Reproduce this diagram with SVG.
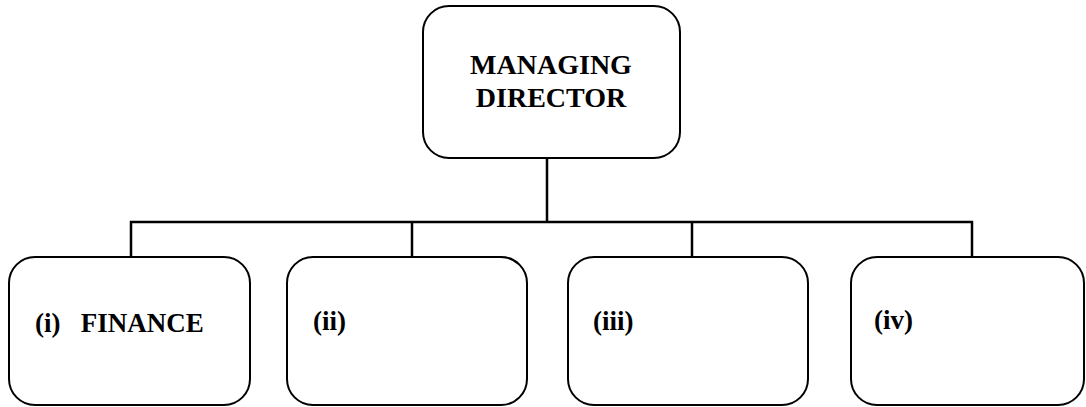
<svg xmlns="http://www.w3.org/2000/svg" width="1086" height="407" viewBox="0 0 1086 407">
<style>
.box{fill:#fff;stroke:#000;stroke-width:2}
.conn{fill:none;stroke:#000;stroke-width:2.5}
.t{font-family:'Liberation Serif','Times New Roman','DejaVu Serif',serif;font-weight:bold;font-size:27px;fill:#000}
.big{font-size:28px}
</style>
<rect width="1086" height="407" fill="#fff"/>
<g id="connectors">
<path class="conn" d="M547 158 V222 M131 257 V222 H972 V257 M412 222 V257 M692 222 V257"/>
</g>
<g id="md">
<rect class="box" x="423" y="6" width="257" height="152" rx="26"/>
<text class="t big" x="551" y="74" text-anchor="middle">MANAGING</text>
<text class="t big" x="551" y="107" text-anchor="middle">DIRECTOR</text>
</g>
<g id="n1">
<rect class="box" x="9" y="257" width="241" height="148" rx="26"/>
<text class="t" x="35" y="332" xml:space="preserve">(i)   FINANCE</text>
</g>
<g id="n2">
<rect class="box" x="287" y="257" width="240" height="148" rx="26"/>
<text class="t" x="313" y="330">(ii)</text>
</g>
<g id="n3">
<rect class="box" x="568" y="257" width="240" height="148" rx="26"/>
<text class="t" x="593" y="330">(iii)</text>
</g>
<g id="n4">
<rect class="box" x="851" y="257" width="233" height="148" rx="26"/>
<text class="t" x="874" y="329">(iv)</text>
</g>
</svg>
